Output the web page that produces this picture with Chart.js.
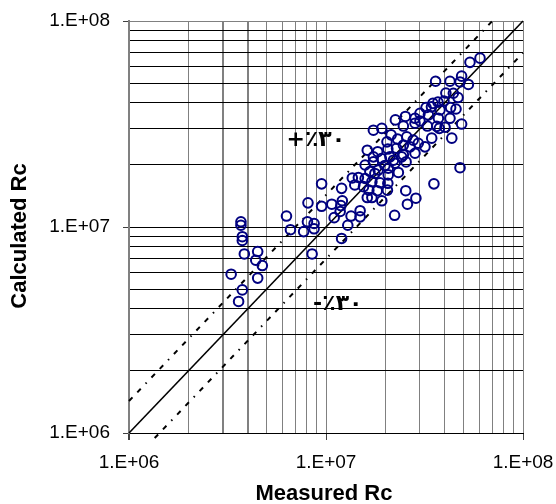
<!DOCTYPE html>
<html><head><meta charset="utf-8">
<script src="https://cdn.jsdelivr.net/npm/chart.js@4.4.1/dist/chart.umd.min.js"></script>
<style>html,body{margin:0;padding:0;background:#fff}#wrap{width:556px;height:504px}</style>
</head><body><div id="wrap"><canvas id="c" width="556" height="504"></canvas></div>
<script>
// Measured Rc (x) and Calculated Rc (y)
const measured = [
 3.7e6,3.7e6,3.76e6,3.76e6,3.85e6,4.5e6,4.4e6,4.75e6,3.3e6,4.5e6,3.76e6,3.6e6,
 6.3e6,6.6e6,8.1e6,7.7e6,8.05e6,8.7e6,8.7e6,8.5e6,9.5e6,9.5e6,10.7e6,12.0e6,11.9e6,12.1e6,11.0e6,12.9e6,12.0e6,
 13.6e6,14.0e6,13.4e6,14.9e6,14.9e6,11.8e6,
 60.5e6,53.8e6,36e6,42.6e6,48.8e6,47.9e6,52.8e6,40.6e6,44.3e6,46.8e6,
 32.2e6,34.9e6,37e6,39.7e6,42.9e6,45.7e6,30e6,34.3e6,37.9e6,33.1e6,37.2e6,42.6e6,22.5e6,25.3e6,28.3e6,30e6,28.3e6,24.7e6,32.7e6,36.5e6,37.6e6,40.2e6,48.8e6,17.4e6,19.2e6,
 21.4e6,20.4e6,23.1e6,25.7e6,27.7e6,29.4e6,31.8e6,26.7e6,28.3e6,34.4e6,43.5e6,16.2e6,18.3e6,20.6e6,22.8e6,24.7e6,24.7e6,17.4e6,19.1e6,21.1e6,22e6,24.2e6,25.5e6,
 17.4e6,15.8e6,22.4e6,19.9e6,47.9e6,16.7e6,18.4e6,20.7e6,23.3e6,17.7e6,20.7e6,15.8e6,14.6e6,15.5e6,17.1e6,18.8e6,20.6e6,35.3e6,16.5e6,18.2e6,20.5e6,25.4e6,16.2e6,17.1e6,19.2e6,28.6e6,
 25.9e6,22.3e6
];
const calculated = [
 10.6e6,10.2e6,8.97e6,8.6e6,7.4e6,7.6e6,6.9e6,6.5e6,5.9e6,5.65e6,4.95e6,4.35e6,
 11.3e6,9.7e6,13.1e6,9.5e6,10.6e6,10.4e6,9.8e6,7.4e6,16.2e6,12.6e6,12.9e6,15.4e6,12.7e6,13.4e6,11.1e6,10.2e6,8.8e6,
 17.3e6,16.0e6,11.3e6,12.0e6,11.2e6,11.9e6,
 66e6,63e6,51e6,51e6,54e6,50.6e6,49.2e6,44.7e6,44.6e6,42.5e6,
 38e6,39.8e6,40.4e6,40.9e6,38e6,37.4e6,35.6e6,38.3e6,37e6,35e6,33.7e6,33.7e6,33.1e6,34.4e6,33.7e6,32.7e6,31.9e6,30.9e6,30.9e6,30.8e6,30.1e6,30.5e6,31.6e6,29.5e6,30.1e6,
 28e6,25.9e6,26.7e6,27.4e6,26.4e6,25.5e6,24.5e6,24.5e6,22.8e6,27e6,27e6,23.6e6,23.2e6,23.9e6,24.1e6,25e6,22.4e6,21.9e6,21.5e6,21.9e6,21.1e6,21.9e6,20.7e6,
 20.7e6,20e6,20.4e6,19.9e6,19.4e6,18.6e6,18.9e6,19.3e6,18.4e6,18.2e6,17.9e6,17.2e6,17.4e6,15.7e6,16.6e6,16.4e6,16.3e6,16.2e6,15.1e6,15e6,15.1e6,15e6,13.9e6,13.9e6,13.4e6,13.8e6,
 12.9e6,11.4e6
];
// reference lines: equality, +30% and -30%
const equalX = [1e6, 1e8];
const equalY = [1e6, 1e8];
const upperX = [1e6, 7.2e7];
const upperY = [1.43e6, 1.03e8];
const lowerX = [1.35e6, 1e8];
const lowerY = [0.945e6, 7.0e7];
// gridlines and tick labels
const gridValues = [1e6,2e6,3e6,4e6,5e6,6e6,7e6,8e6,9e6,1e7,2e7,3e7,4e7,5e7,6e7,7e7,8e7,9e7,1e8];
const majorValues = [1e6, 1e7, 1e8];
const tickLabels = ['1.E+06', '1.E+07', '1.E+08'];
const xTitle = 'Measured Rc';
const yTitle = 'Calculated Rc';
// annotation texts
const noteText = ['+٪۳۰', '-٪۳۰'];
const noteX = [6.3e6, 8.6e6];
const noteY = [2.65e7, 4.2e6];

const toPts = (xs, ys) => xs.map((x, i) => ({x: x, y: ys[i]}));
const isMajor = v => majorValues.indexOf(v) >= 0;
const labelFor = v => { const i = majorValues.indexOf(v); return i >= 0 ? tickLabels[i] : ''; };
const dashPat = [5, 7, 5, 7, 1.5, 7];

const bgPlugin = {
  id: 'bg',
  beforeDraw(chart) {
    const c = chart.ctx; c.save(); c.fillStyle = '#fff';
    c.fillRect(0, 0, chart.width, chart.height); c.restore();
  },
  afterDraw(chart) {
    const c = chart.ctx, xs = chart.scales.x, ys = chart.scales.y;
    c.save();
    c.fillStyle = '#000';
    c.font = "bold 22px 'Liberation Sans', Arial, sans-serif";
    c.textAlign = 'center'; c.textBaseline = 'middle';
    c.fillText(xTitle, 324, 494);
    c.translate(20, 236); c.rotate(-Math.PI / 2);
    c.fillText(yTitle, 0, 0);
    c.restore();
    c.save();
    c.fillStyle = '#000';
    c.font = "bold 22px 'DejaVu Sans', sans-serif";
    c.textAlign = 'left'; c.textBaseline = 'middle';
    noteText.forEach((t, i) => {
      c.fillText(t, xs.getPixelForValue(noteX[i]), ys.getPixelForValue(noteY[i]));
    });
    c.restore();
  }
};

const axisCommon = (isX) => ({
  type: 'logarithmic',
  min: 1e6, max: 1e8,
  position: isX ? 'bottom' : 'left',
  afterBuildTicks: s => { s.ticks = gridValues.map(v => ({value: v, major: isMajor(v)})); },
  afterFit: s => {
    if (isX) { s.height = 71; s.paddingLeft = 0; s.paddingRight = 0; }
    else { s.width = 129; s.paddingTop = 0; s.paddingBottom = 0; }
  },
  ticks: {
    autoSkip: false, maxRotation: 0, minRotation: 0,
    color: '#000',
    font: {family: "'Liberation Sans', Arial, sans-serif", size: 19},
    padding: isX ? 11 : 13,
    callback: v => labelFor(v)
  },
  grid: {
    tickLength: isX ? 7 : 6,
    tickColor: ctx => (ctx.tick && isMajor(ctx.tick.value)) ? '#404040' : 'rgba(0,0,0,0)',
    color: ctx => {
      const v = ctx.tick ? ctx.tick.value : 0;
      if (isX) return '#808080';
      return v === 1e8 ? '#808080' : '#000';
    },
    lineWidth: ctx => {
      const v = ctx.tick ? ctx.tick.value : 0;
      if (isX) return (v === 3e6 || v === 4e6 || v === 1e6) ? 2 : 1;
      return 1;
    }
  },
  border: isX ? {display: true, color: '#000', width: 1} : {display: true, color: '#808080', width: 2}
});

new Chart(document.getElementById('c'), {
  type: 'scatter',
  data: {
    datasets: [
      {label: 'data', data: toPts(measured, calculated), pointStyle: 'circle', pointRadius: 4.8,
       pointBorderWidth: 2, pointBorderColor: '#000080', pointBackgroundColor: 'rgba(0,0,0,0)', showLine: false},
      {label: 'equal', data: toPts(equalX, equalY), showLine: true, pointRadius: 0,
       borderColor: '#000', borderWidth: 1.6, clip: false},
      {label: 'plus30', data: toPts(upperX, upperY), showLine: true, pointRadius: 0,
       borderColor: '#000', borderWidth: 2, borderDash: dashPat, clip: false},
      {label: 'minus30', data: toPts(lowerX, lowerY), showLine: true, pointRadius: 0,
       borderColor: '#000', borderWidth: 2, borderDash: dashPat, clip: false}
    ]
  },
  options: {
    responsive: false, animation: false, devicePixelRatio: 1,
    layout: {padding: {left: 0, top: 21, right: 33, bottom: 0}},
    plugins: {legend: {display: false}, tooltip: {enabled: false}, title: {display: false}},
    scales: {x: axisCommon(true), y: axisCommon(false)}
  },
  plugins: [bgPlugin]
});
</script></body></html>
